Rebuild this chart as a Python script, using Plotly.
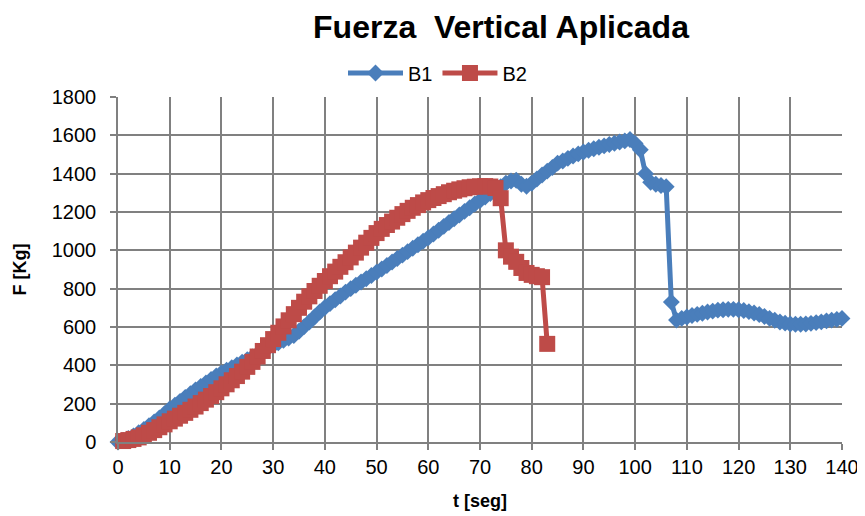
import plotly.graph_objects as go

# ---- data ----
t_b1 = list(range(0, 141))
f_b1 = [0, 8, 18, 32, 48, 65, 85, 105, 125, 148,
        172, 192, 212, 232, 252, 272, 290, 308, 326, 344,
        360, 374, 388, 402, 416, 430, 444, 459, 474, 490,
        505, 518, 530, 542, 556, 578, 602, 626, 652, 678,
        702, 722, 742, 762, 782, 800, 818, 835, 852, 869,
        886, 903, 921, 939, 957, 975, 993, 1011, 1029, 1047,
        1066, 1085, 1105, 1125, 1145, 1165, 1184, 1203, 1222, 1242,
        1260, 1278, 1296, 1314, 1332, 1350, 1362, 1366, 1345, 1334,
        1350, 1372, 1393, 1413, 1432, 1455, 1466, 1480, 1492, 1503,
        1513, 1522, 1530, 1538, 1545, 1552, 1559, 1565, 1571, 1578,
        1558, 1525, 1400, 1355, 1345, 1338, 1332, 730, 636, 645,
        652, 660, 666, 672, 678, 683, 688, 690, 692, 692,
        690, 686, 680, 673, 665, 655, 645, 635, 626, 620,
        616, 614, 614, 616, 619, 623, 627, 632, 636, 640,
        645]

t_b2 = list(range(1, 84))
f_b2 = [5, 10, 16, 24, 35, 48, 62, 77, 92,
        108, 122, 137, 152, 168, 185, 203, 221, 240, 260,
        280, 301, 322, 344, 367, 392, 418, 446, 475, 505,
        537, 570, 603, 635, 667, 700, 732, 760, 788, 815,
        840, 865, 889, 914, 938, 963, 988, 1014, 1040, 1065,
        1090, 1112, 1132, 1150, 1170, 1189, 1206, 1222, 1236, 1250,
        1262, 1273, 1283, 1293, 1303, 1311, 1318, 1324, 1329, 1332,
        1334, 1335, 1333, 1325, 1272, 1000, 967, 940, 908, 882,
        872, 865, 860, 512]

x_ticks = list(range(0, 141, 10))
y_ticks = list(range(0, 1801, 200))

BLUE = "#4A7EBB"
RED = "#BE4B48"
GRID = "#808080"
FONT = "Liberation Sans"

# the page body has an 8px default margin, so the figure is sized to fit
OFF = 8
W, H = 865 - OFF, 516 - OFF
L, R, T, B = 118 - OFF, 23, 97 - OFF, 74
PW, PH = W - L - R, H - T - B

fig = go.Figure()
fig.add_trace(go.Scatter(
    x=t_b1, y=f_b1, name="B1", mode="lines+markers",
    line=dict(color=BLUE, width=5),
    marker=dict(symbol="diamond", size=13, color=BLUE),
    cliponaxis=False,
))
fig.add_trace(go.Scatter(
    x=t_b2, y=f_b2, name="B2", mode="lines+markers",
    line=dict(color=RED, width=5),
    marker=dict(symbol="square", size=16, color=RED),
    cliponaxis=False,
))

fig.update_layout(
    width=W, height=H,
    margin=dict(l=L, r=R, t=T, b=B, autoexpand=False),
    paper_bgcolor="white", plot_bgcolor="white",
    font=dict(family=FONT, size=20, color="black"),
    title=dict(text="<b>Fuerza  Vertical Aplicada</b>",
               x=(501 - OFF) / W, xanchor="center", xref="container",
               y=1 - (27 - OFF) / H, yanchor="middle", yref="container",
               font=dict(family=FONT, size=32, color="black")),
    legend=dict(orientation="h", x=(343 - 118) / PW, xanchor="left",
                y=(442 - 73) / PH, yanchor="middle",
                font=dict(family=FONT, size=20),
                itemwidth=55, tracegroupgap=0,
                bgcolor="rgba(0,0,0,0)"),
    showlegend=True,
)

fig.update_xaxes(
    range=[0, 140], tickvals=x_ticks, ticktext=[str(v) for v in x_ticks],
    automargin=False,
    showgrid=True, gridcolor=GRID, gridwidth=1.5,
    showline=True, linecolor=GRID, linewidth=1.5,
    ticks="outside", ticklen=6, tickcolor=GRID, tickwidth=1.5,
    zeroline=False,
    title=dict(text="<b>t [seg]</b>", font=dict(family=FONT, size=18), standoff=18),
)
fig.update_yaxes(
    range=[0, 1800], tickvals=y_ticks, ticktext=[str(v) for v in y_ticks],
    automargin=False, ticklabelstandoff=10,
    showgrid=True, gridcolor=GRID, gridwidth=1.5,
    showline=True, linecolor=GRID, linewidth=1.5,
    ticks="outside", ticklen=6, tickcolor=GRID, tickwidth=1.5,
    zeroline=False,
    title=dict(text="<b>F [Kg]</b>", font=dict(family=FONT, size=18), standoff=20),
)

fig.write_html("out.html")
